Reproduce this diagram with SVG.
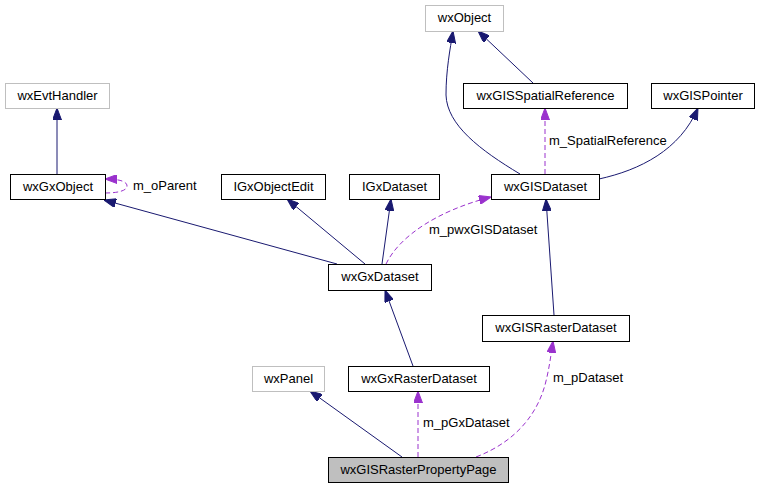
<svg xmlns="http://www.w3.org/2000/svg" width="759" height="488" viewBox="0 0 759 488">
<style>
text{font-family:"Liberation Sans",Arial,sans-serif;font-size:13px;fill:#000}
.n text{text-anchor:middle}
.box{fill:#fff;stroke:#000;stroke-width:1}
.gray{fill:#fff;stroke:#bfbfbf;stroke-width:1}
.main{fill:#bfbfbf;stroke:#000;stroke-width:1}
.inh{fill:none;stroke:#191970;stroke-width:1}
.use{fill:none;stroke:#9a32cd;stroke-width:1;stroke-dasharray:5,3}
</style>
<defs>
<marker id="ab" markerUnits="userSpaceOnUse" viewBox="0 0 12 9" refX="12" refY="4.5" markerWidth="12" markerHeight="9" orient="auto"><path d="M0,0 L12,4.5 L0,9 z" fill="#191970" stroke="#191970"/></marker>
<marker id="ap" markerUnits="userSpaceOnUse" viewBox="0 0 12 9" refX="12" refY="4.5" markerWidth="12" markerHeight="9" orient="auto"><path d="M0,0 L12,4.5 L0,9 z" fill="#9a32cd" stroke="#9a32cd"/></marker>
</defs>
<g id="edges">
<path class="inh" marker-end="url(#ab)" d="M57,174 L57,108"/>
<path class="use" marker-end="url(#ap)" d="M105,193 C117,193 127,191 127,186 C127,181 118,179 105,179"/>
<path class="inh" marker-end="url(#ab)" d="M337,264 L104,200"/>
<path class="inh" marker-end="url(#ab)" d="M365,264 L287,199"/>
<path class="inh" marker-end="url(#ab)" d="M382,264 L391,199"/>
<path class="use" marker-end="url(#ap)" d="M386,264 C400,235 440,210 491,197"/>
<path class="inh" marker-end="url(#ab)" d="M520,174 C480,150 447,125 446,95 C446,70 450,50 453,31"/>
<path class="inh" marker-end="url(#ab)" d="M533,83 L478,31"/>
<path class="inh" marker-end="url(#ab)" d="M599,179 C640,170 680,150 698,108"/>
<path class="use" marker-end="url(#ap)" d="M545,174 L545,108"/>
<path class="inh" marker-end="url(#ab)" d="M554,315 L546,199"/>
<path class="inh" marker-end="url(#ab)" d="M413,366 L385,290"/>
<path class="inh" marker-end="url(#ab)" d="M402,457 L310,391"/>
<path class="use" marker-end="url(#ap)" d="M418,457 L418,391"/>
<path class="use" marker-end="url(#ap)" d="M476,457 C520,440 538,410 545,385 C549,370 551,355 553,341"/>
<text x="133" y="190">m_oParent</text>
<text x="429" y="234">m_pwxGISDataset</text>
<text x="549" y="145">m_SpatialReference</text>
<text x="423" y="427">m_pGxDataset</text>
<text x="553" y="382">m_pDataset</text>
</g>
<g id="wxEvtHandler" class="n"><rect class="gray" x="5.5" y="83.5" width="104" height="25"/><text x="57.5" y="100">wxEvtHandler</text></g>
<g id="wxGxObject" class="n"><rect class="box" x="10.5" y="174.5" width="95" height="25"/><text x="58" y="191">wxGxObject</text></g>
<g id="IGxObjectEdit" class="n"><rect class="box" x="221.5" y="174.5" width="104" height="25"/><text x="273.5" y="191">IGxObjectEdit</text></g>
<g id="IGxDataset" class="n"><rect class="box" x="349.5" y="174.5" width="90" height="25"/><text x="394.5" y="191">IGxDataset</text></g>
<g id="wxObject" class="n"><rect class="gray" x="425.5" y="5.5" width="78" height="26"/><text x="464.5" y="22">wxObject</text></g>
<g id="wxGISSpatialReference" class="n"><rect class="box" x="463.5" y="83.5" width="164" height="25"/><text x="545.5" y="100">wxGISSpatialReference</text></g>
<g id="wxGISPointer" class="n"><rect class="box" x="651.5" y="83.5" width="103" height="25"/><text x="703" y="100">wxGISPointer</text></g>
<g id="wxGISDataset" class="n"><rect class="box" x="491.5" y="174.5" width="108" height="25"/><text x="545.5" y="191">wxGISDataset</text></g>
<g id="wxGxDataset" class="n"><rect class="box" x="328.5" y="264.5" width="103" height="26"/><text x="380" y="281">wxGxDataset</text></g>
<g id="wxGISRasterDataset" class="n"><rect class="box" x="482.5" y="315.5" width="147" height="26"/><text x="556" y="332">wxGISRasterDataset</text></g>
<g id="wxPanel" class="n"><rect class="gray" x="252.5" y="366.5" width="72" height="25"/><text x="288.5" y="383">wxPanel</text></g>
<g id="wxGxRasterDataset" class="n"><rect class="box" x="348.5" y="366.5" width="141" height="25"/><text x="419" y="383">wxGxRasterDataset</text></g>
<g id="wxGISRasterPropertyPage" class="n"><rect class="main" x="328.5" y="457.5" width="180" height="25"/><text x="418.5" y="474">wxGISRasterPropertyPage</text></g>
</svg>
